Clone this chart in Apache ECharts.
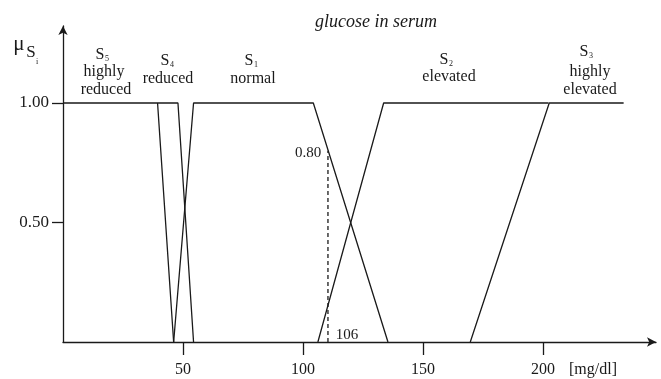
<!DOCTYPE html>
<html><head><meta charset="utf-8">
<script src="https://cdn.jsdelivr.net/npm/echarts@6/dist/echarts.min.js"></script>
<style>html,body{margin:0;padding:0;background:#fff}#c{width:661px;height:379px}</style>
</head><body><div id="c"></div>
<script>
// membership functions (x in mg/dl, y = membership)
const s5X = [0, 39.4, 46.1];            const s5Y = [1, 1, 0];
const s4X = [39.4, 47.9, 54.4];         const s4Y = [1, 1, 0];
const s1X = [46.1, 54.4, 104.3, 135.4]; const s1Y = [0, 1, 1, 0];
const s2X = [106.2, 133.6, 202.3];      const s2Y = [0, 1, 1];
const s3X = [169.7, 202.6, 233.6];      const s3Y = [0, 1, 1];
const cutX = [110.4, 110.4];            const cutY = [0, 0.8];
const xTicks = [50, 100, 150, 200];
const yTicks = [0.5, 1.0];
const yTickLabels = ['0.50', '1.00'];

const zip = (xs, ys) => xs.map((x, i) => [x, ys[i]]);
const FONT = '"Liberation Serif", "DejaVu Serif", serif';
const INK = '#1a1a1a';
const lineSeries = (xs, ys, dashed) => ({
  type: 'line', data: zip(xs, ys), symbol: 'none', silent: true,
  lineStyle: { color: INK, width: 1.3, type: dashed ? [4, 3] : 'solid' }
});

const chart = echarts.init(document.getElementById('c'), null, { renderer: 'canvas' });
const gridLeft = 63, gridRight = 5, gridTop = 26, gridBottom = 37;

function txt(x, y, text, size, extra) {
  return Object.assign({ type: 'text', x, y, style: { text, font: size + 'px ' + FONT, fill: INK, align: 'center', verticalAlign: 'middle' } }, extra || {});
}
function sLabel(cx, y, sub) {
  return [txt(cx - 1, y, 'S', 16, {}), txt(cx + 6, y + 4, sub, 8, {})];
}

const graphics = [
  txt(376, 22, 'glucose in serum', 18, { style: { text: 'glucose in serum', font: 'italic 18px ' + FONT, fill: INK, align: 'center', verticalAlign: 'middle' } }),
  txt(19, 44, 'μ', 21, {}),
  txt(31, 53, 'S', 17, {}),
  txt(37, 62, 'i', 8, {}),
  ...sLabel(101, 55, '5'), txt(104, 72, 'highly', 16), txt(106, 90, 'reduced', 16),
  ...sLabel(166, 61, '4'), txt(168, 79, 'reduced', 16),
  ...sLabel(250, 61, '1'), txt(253, 79, 'normal', 16),
  ...sLabel(445, 60, '2'), txt(449, 77, 'elevated', 16),
  ...sLabel(585, 52, '3'), txt(590, 72, 'highly', 16), txt(590, 90, 'elevated', 16),
  txt(308, 153, '0.80', 15),
  txt(347, 335, '106', 15),
  txt(593, 370, '[mg/dl]', 16)
];

chart.setOption({
  animation: false,
  backgroundColor: '#fff',
  grid: { left: gridLeft, right: gridRight, top: gridTop, bottom: gridBottom },
  xAxis: {
    type: 'value', min: 0, max: (661 - gridLeft - gridRight) / 2.4,
    splitLine: { show: false },
    axisLine: { lineStyle: { color: INK, width: 1.3 }, symbol: ['none', 'arrow'], symbolSize: [7, 9] },
    axisTick: { show: true, length: 13, lineStyle: { color: INK, width: 1.3 }, customValues: xTicks },
    axisLabel: { customValues: xTicks, color: INK, fontFamily: FONT, fontSize: 16, margin: 20 }
  },
  yAxis: {
    type: 'value', min: 0, max: (379 - gridTop - gridBottom) / 239,
    splitLine: { show: false },
    axisLine: { lineStyle: { color: INK, width: 1.3 }, symbol: ['none', 'arrow'], symbolSize: [7, 9] },
    axisTick: { show: true, length: 11, lineStyle: { color: INK, width: 1.3 }, customValues: yTicks },
    axisLabel: { customValues: yTicks, color: INK, fontFamily: FONT, fontSize: 17, margin: 14,
      formatter: v => yTickLabels[yTicks.indexOf(Math.round(v * 100) / 100)] || '' }
  },
  series: [
    lineSeries(s5X, s5Y), lineSeries(s4X, s4Y), lineSeries(s1X, s1Y),
    lineSeries(s2X, s2Y), lineSeries(s3X, s3Y), lineSeries(cutX, cutY, true)
  ],
  graphic: graphics
});
</script></body></html>
